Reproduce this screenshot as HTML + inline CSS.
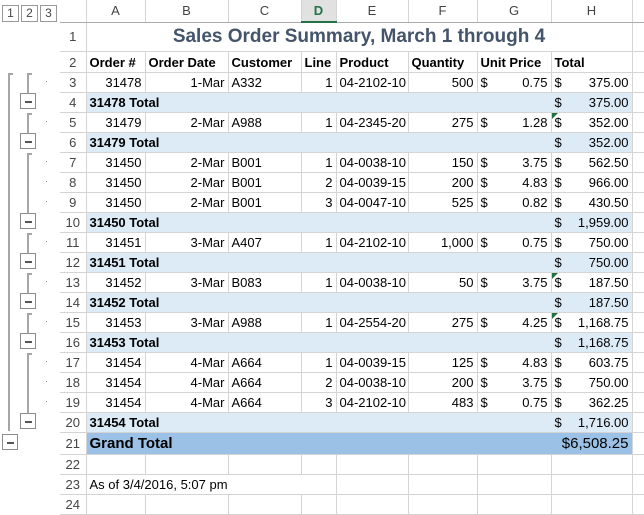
<!DOCTYPE html>
<html><head><meta charset="utf-8"><style>
body{margin:0;width:644px;height:505px;overflow:hidden;background:#fff;font-family:"Liberation Sans",sans-serif;font-size:13px;color:#000;position:relative}
table{position:absolute;left:60px;top:0;border-collapse:collapse;table-layout:fixed;width:592px}
td{border:1px solid #d4d4d4;padding:0 3px;white-space:nowrap;overflow:hidden;height:20px;line-height:19px;box-sizing:border-box}
td.rn{text-align:center;color:#444;padding:0;border-left:none;font-size:13px}
tr.hd td{height:22px;text-align:center;color:#444;border-top:none;border-bottom:1px solid #ababab}
tr.hd td.sel{background:#e1e1e1;color:#217346;font-weight:bold;border-bottom:2px solid #217346}
.r{text-align:right}
.b{font-weight:bold}
.m{display:flex;justify-content:space-between}
tr.t td.f{background:#ddebf7;font-weight:bold;border-right-color:#ddebf7}
tr.t td.h{background:#ddebf7;border-left-color:#ddebf7}
tr.g td.f{background:#9bc2e6;font-weight:bold;font-size:15px;border-right-color:#9bc2e6}
tr.g td.h{background:#9bc2e6;font-size:15px;border-left-color:#9bc2e6}
.tr{position:relative}
.tr::before{content:"";position:absolute;left:0;top:0;border-top:6px solid #217346;border-right:6px solid transparent}
.ob{position:absolute;width:16px;height:16px;border:1px solid #8c8c8c;background:#fff;box-sizing:border-box}
.ob::after{content:"";position:absolute;left:4px;top:7px;width:7px;height:1px;background:#555;border-top:1px solid #555}
.vl{position:absolute;width:2px;background:#a6a6a6}
.hl{position:absolute;height:2px;background:#a6a6a6;width:5px}
.dt{position:absolute;width:1px;height:1px;background:#888;left:46px}
.lv{position:absolute;top:5px;height:17px;width:17px;border:1px solid #999;box-sizing:border-box;text-align:center;font-size:12px;line-height:15px;color:#444}
</style></head><body>
<div class="lv" style="left:2px">1</div><div class="lv" style="left:21px">2</div><div class="lv" style="left:40px">3</div>
<svg style="position:absolute;left:60px;top:0" width="26" height="22"><polygon points="24,8 24,20 12,20" fill="#d0d0d0"/></svg>
<div class="vl" style="left:8px;top:73px;height:358px"></div><div class="hl" style="left:8px;top:73px"></div>
<div class="ob" style="left:2px;top:434px"></div>
<div class="vl" style="left:27px;top:73px;height:20px"></div><div class="hl" style="left:27px;top:73px"></div><div class="ob" style="left:20px;top:93px"></div>
<div class="vl" style="left:27px;top:113px;height:20px"></div><div class="hl" style="left:27px;top:113px"></div><div class="ob" style="left:20px;top:133px"></div>
<div class="vl" style="left:27px;top:153px;height:60px"></div><div class="hl" style="left:27px;top:153px"></div><div class="ob" style="left:20px;top:213px"></div>
<div class="vl" style="left:27px;top:233px;height:20px"></div><div class="hl" style="left:27px;top:233px"></div><div class="ob" style="left:20px;top:253px"></div>
<div class="vl" style="left:27px;top:273px;height:20px"></div><div class="hl" style="left:27px;top:273px"></div><div class="ob" style="left:20px;top:293px"></div>
<div class="vl" style="left:27px;top:313px;height:20px"></div><div class="hl" style="left:27px;top:313px"></div><div class="ob" style="left:20px;top:333px"></div>
<div class="vl" style="left:27px;top:353px;height:60px"></div><div class="hl" style="left:27px;top:353px"></div><div class="ob" style="left:20px;top:413px"></div>
<div class="dt" style="top:81px"></div><div class="dt" style="top:121px"></div><div class="dt" style="top:161px"></div><div class="dt" style="top:181px"></div><div class="dt" style="top:201px"></div><div class="dt" style="top:241px"></div><div class="dt" style="top:281px"></div><div class="dt" style="top:321px"></div><div class="dt" style="top:361px"></div><div class="dt" style="top:381px"></div><div class="dt" style="top:401px"></div>
<table>
<colgroup><col style="width:26px"><col style="width:59px"><col style="width:83px"><col style="width:73px"><col style="width:35px"><col style="width:72px"><col style="width:69px"><col style="width:74px"><col style="width:81px"><col style="width:20px"></colgroup>
<tr class="hd"><td class="rn" style="background:#fff"></td><td>A</td><td>B</td><td>C</td><td class="sel">D</td><td>E</td><td>F</td><td>G</td><td>H</td><td></td></tr>
<tr><td class="rn" style="height:28px">1</td><td colspan="8" style="text-align:center;font-size:19px;font-weight:bold;color:#44546a;height:28px;line-height:28px">Sales Order Summary, March 1 through 4</td><td></td></tr>
<tr class="b"><td class="rn" style="font-weight:normal;height:21px">2</td><td>Order #</td><td>Order Date</td><td>Customer</td><td>Line</td><td>Product</td><td>Quantity</td><td>Unit Price</td><td>Total</td><td></td></tr>
<tr><td class="rn">3</td><td class="r">31478</td><td class="r">1-Mar</td><td>A332</td><td class="r">1</td><td>04-2102-10</td><td class="r">500</td><td><div class="m"><span>$</span><span>0.75</span></div></td><td><div class="m"><span>$</span><span>375.00</span></div></td><td></td></tr>
<tr class="t"><td class="rn">4</td><td class="f" colspan="7">31478 Total</td><td class="h"><div class="m"><span>$</span><span>375.00</span></div></td><td></td></tr>
<tr><td class="rn">5</td><td class="r">31479</td><td class="r">2-Mar</td><td>A988</td><td class="r">1</td><td>04-2345-20</td><td class="r">275</td><td><div class="m"><span>$</span><span>1.28</span></div></td><td class="tr"><div class="m"><span>$</span><span>352.00</span></div></td><td></td></tr>
<tr class="t"><td class="rn">6</td><td class="f" colspan="7">31479 Total</td><td class="h"><div class="m"><span>$</span><span>352.00</span></div></td><td></td></tr>
<tr><td class="rn">7</td><td class="r">31450</td><td class="r">2-Mar</td><td>B001</td><td class="r">1</td><td>04-0038-10</td><td class="r">150</td><td><div class="m"><span>$</span><span>3.75</span></div></td><td><div class="m"><span>$</span><span>562.50</span></div></td><td></td></tr>
<tr><td class="rn">8</td><td class="r">31450</td><td class="r">2-Mar</td><td>B001</td><td class="r">2</td><td>04-0039-15</td><td class="r">200</td><td><div class="m"><span>$</span><span>4.83</span></div></td><td><div class="m"><span>$</span><span>966.00</span></div></td><td></td></tr>
<tr><td class="rn">9</td><td class="r">31450</td><td class="r">2-Mar</td><td>B001</td><td class="r">3</td><td>04-0047-10</td><td class="r">525</td><td><div class="m"><span>$</span><span>0.82</span></div></td><td><div class="m"><span>$</span><span>430.50</span></div></td><td></td></tr>
<tr class="t"><td class="rn">10</td><td class="f" colspan="7">31450 Total</td><td class="h"><div class="m"><span>$</span><span>1,959.00</span></div></td><td></td></tr>
<tr><td class="rn">11</td><td class="r">31451</td><td class="r">3-Mar</td><td>A407</td><td class="r">1</td><td>04-2102-10</td><td class="r">1,000</td><td><div class="m"><span>$</span><span>0.75</span></div></td><td><div class="m"><span>$</span><span>750.00</span></div></td><td></td></tr>
<tr class="t"><td class="rn">12</td><td class="f" colspan="7">31451 Total</td><td class="h"><div class="m"><span>$</span><span>750.00</span></div></td><td></td></tr>
<tr><td class="rn">13</td><td class="r">31452</td><td class="r">3-Mar</td><td>B083</td><td class="r">1</td><td>04-0038-10</td><td class="r">50</td><td><div class="m"><span>$</span><span>3.75</span></div></td><td class="tr"><div class="m"><span>$</span><span>187.50</span></div></td><td></td></tr>
<tr class="t"><td class="rn">14</td><td class="f" colspan="7">31452 Total</td><td class="h"><div class="m"><span>$</span><span>187.50</span></div></td><td></td></tr>
<tr><td class="rn">15</td><td class="r">31453</td><td class="r">3-Mar</td><td>A988</td><td class="r">1</td><td>04-2554-20</td><td class="r">275</td><td><div class="m"><span>$</span><span>4.25</span></div></td><td class="tr"><div class="m"><span>$</span><span>1,168.75</span></div></td><td></td></tr>
<tr class="t"><td class="rn">16</td><td class="f" colspan="7">31453 Total</td><td class="h"><div class="m"><span>$</span><span>1,168.75</span></div></td><td></td></tr>
<tr><td class="rn">17</td><td class="r">31454</td><td class="r">4-Mar</td><td>A664</td><td class="r">1</td><td>04-0039-15</td><td class="r">125</td><td><div class="m"><span>$</span><span>4.83</span></div></td><td><div class="m"><span>$</span><span>603.75</span></div></td><td></td></tr>
<tr><td class="rn">18</td><td class="r">31454</td><td class="r">4-Mar</td><td>A664</td><td class="r">2</td><td>04-0038-10</td><td class="r">200</td><td><div class="m"><span>$</span><span>3.75</span></div></td><td><div class="m"><span>$</span><span>750.00</span></div></td><td></td></tr>
<tr><td class="rn">19</td><td class="r">31454</td><td class="r">4-Mar</td><td>A664</td><td class="r">3</td><td>04-2102-10</td><td class="r">483</td><td><div class="m"><span>$</span><span>0.75</span></div></td><td><div class="m"><span>$</span><span>362.25</span></div></td><td></td></tr>
<tr class="t"><td class="rn">20</td><td class="f" colspan="7">31454 Total</td><td class="h"><div class="m"><span>$</span><span>1,716.00</span></div></td><td></td></tr>
<tr class="g"><td class="rn" style="height:22px">21</td><td class="f" colspan="7" style="height:22px">Grand Total</td><td class="h" style="text-align:right;height:22px">$6,508.25</td><td></td></tr>
<tr><td class="rn">22</td><td></td><td></td><td></td><td></td><td></td><td></td><td></td><td></td><td></td></tr>
<tr><td class="rn">23</td><td colspan="3" style="border-right-color:transparent">As of 3/4/2016, 5:07 pm</td><td></td><td></td><td></td><td></td><td></td><td></td></tr>
<tr><td class="rn">24</td><td></td><td></td><td></td><td></td><td></td><td></td><td></td><td></td><td></td></tr>
</table>
</body></html>
